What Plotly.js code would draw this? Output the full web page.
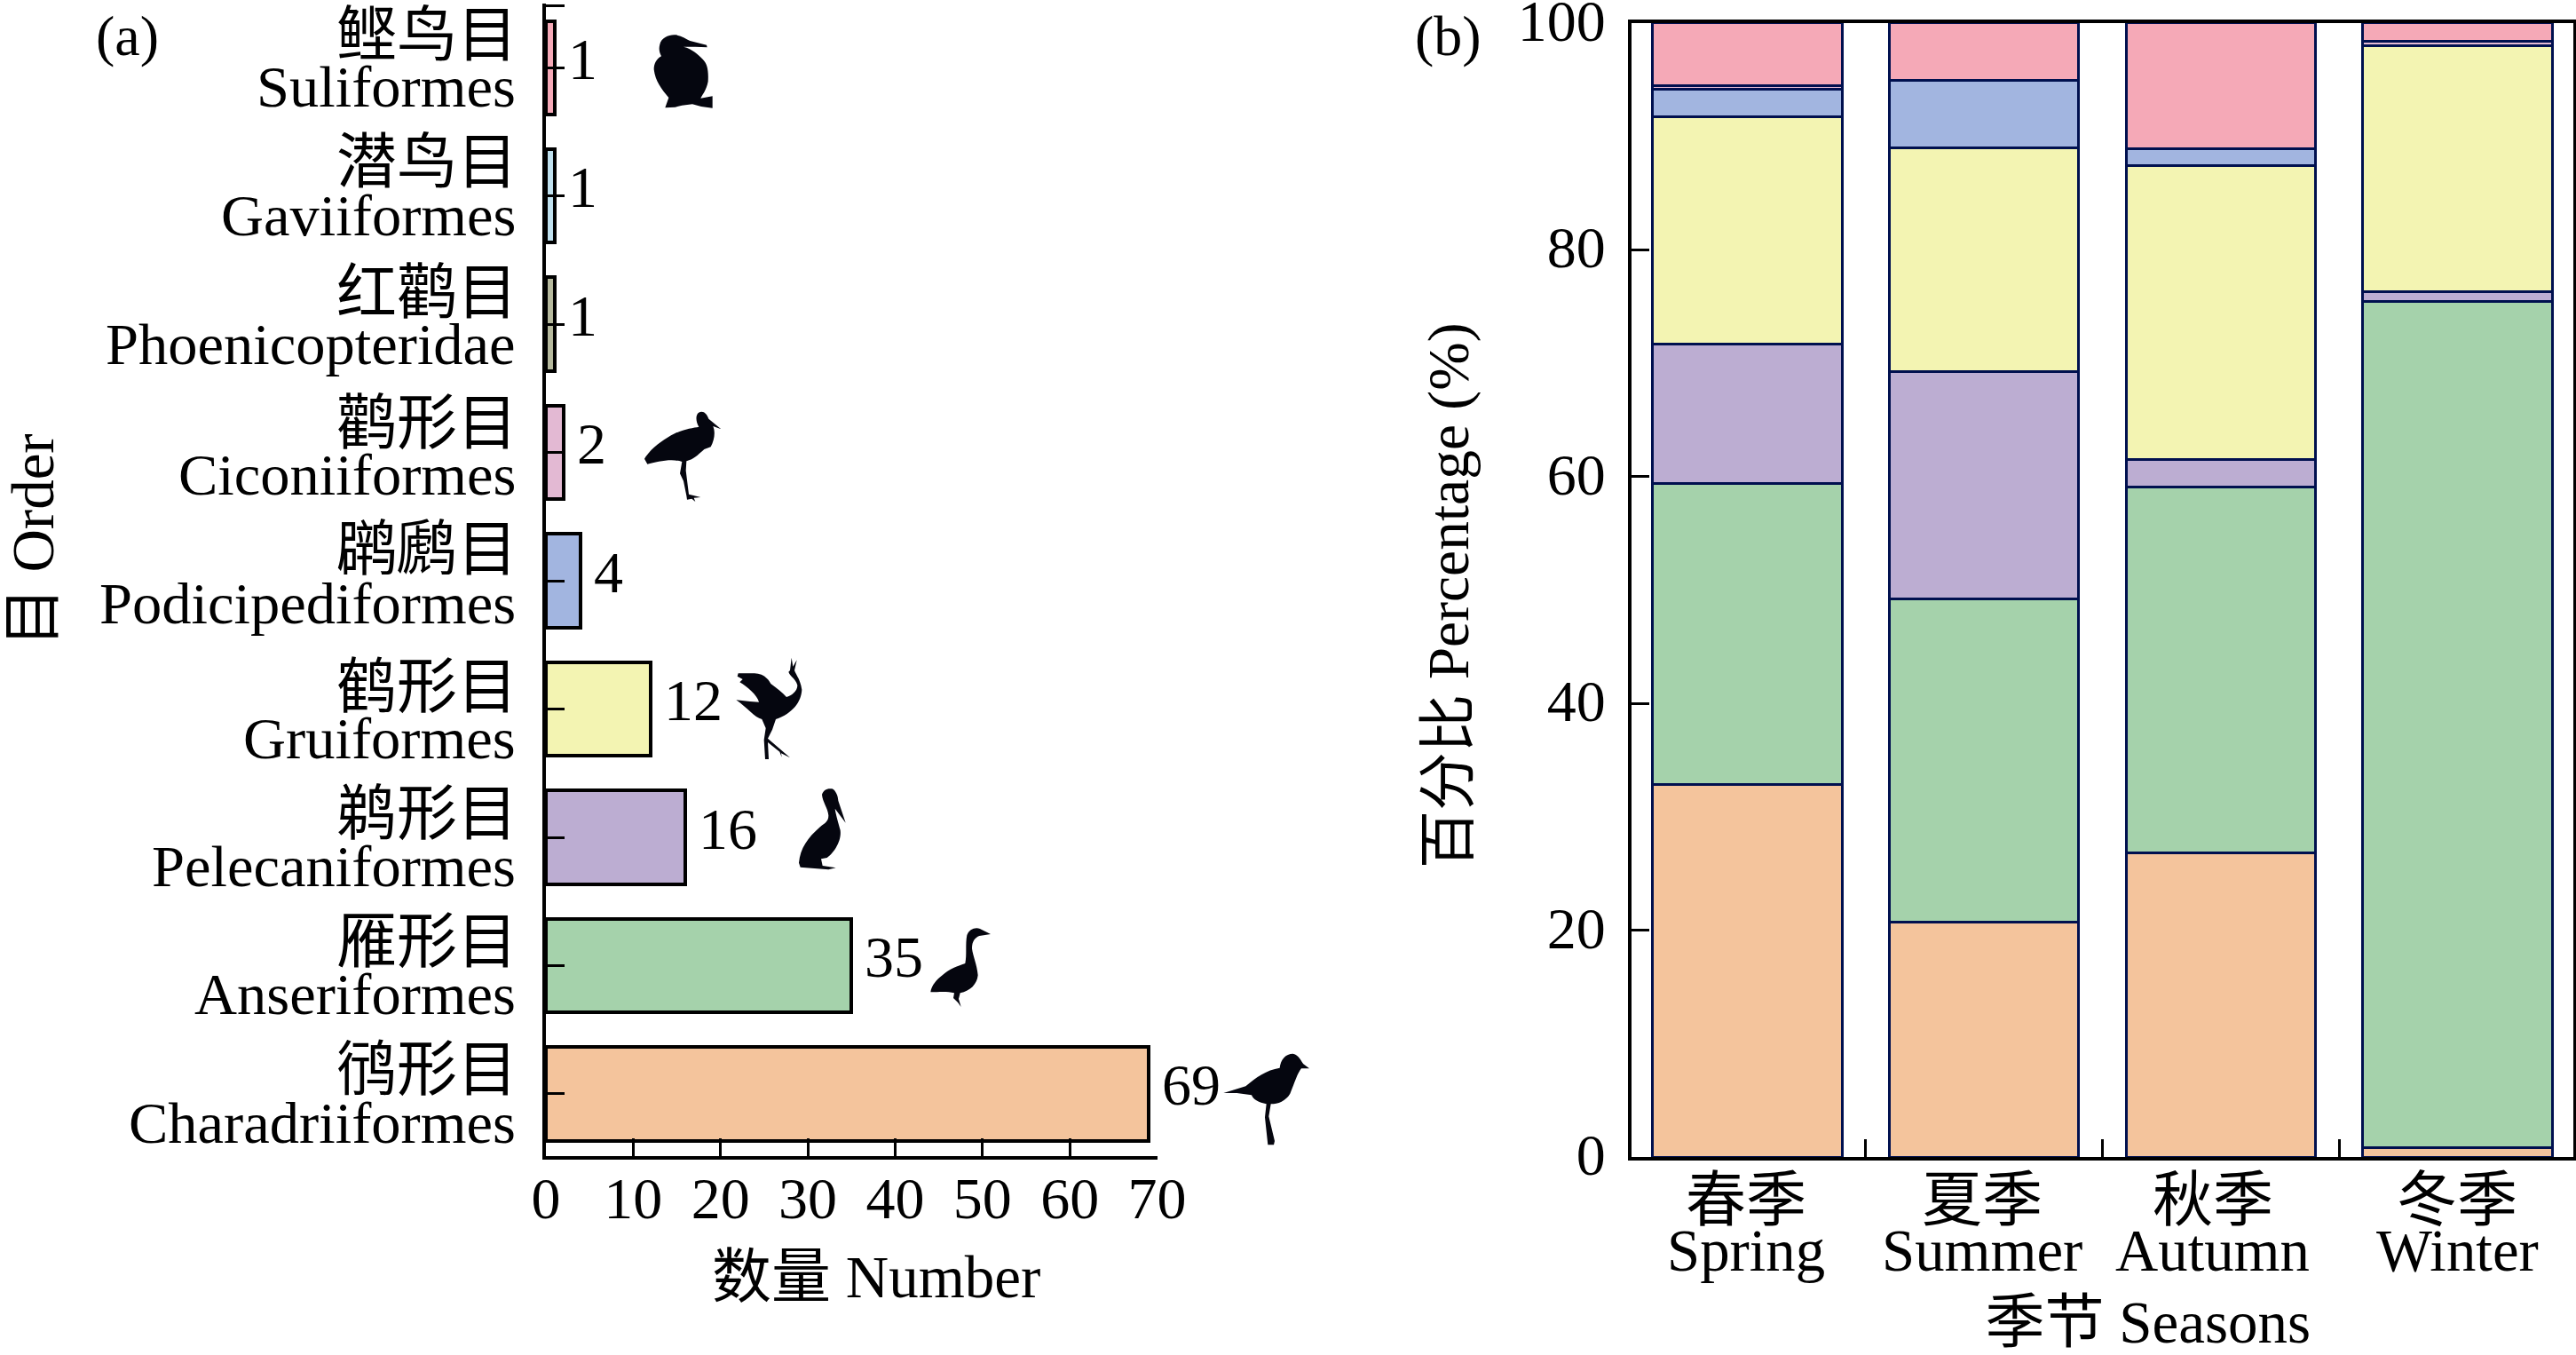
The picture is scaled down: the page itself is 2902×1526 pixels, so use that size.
<!DOCTYPE html>
<html><head><meta charset="utf-8">
<script src="https://cdn.plot.ly/plotly-3.0.1.min.js"></script>
<style>html,body{margin:0;padding:0;background:#fff}</style></head>
<body><div id="chart" style="width:2902px;height:1526px"></div>
<script>
// ---- data (bottom to top) ----
const ordersZh = ['鸻形目','雁形目','鹈形目','鹤形目','䴙䴘目','鹳形目','红鹳目','潜鸟目','鲣鸟目'];
const ordersEn = ['Charadriiformes','Anseriformes','Pelecaniformes','Gruiformes','Podicipediformes','Ciconiiformes','Phoenicopteridae','Gaviiformes','Suliformes'];
const orderCounts = [69,35,16,12,4,2,1,1,1];
const orderColors = ['#F4C49C','#A5D2AB','#BCADD2','#F3F4B2','#A2B5E0','#E3B9D3','#B5B89C','#BFE0EE','#F5A9B7'];

const seasonsZh = ['春季','夏季','秋季','冬季'];
const seasonsEn = ['Spring','Summer','Autumn','Winter'];
const charadriiformes  = [32.8,20.7,26.8,0.8];
const anseriformes     = [26.6,28.5,32.3,74.6];
const pelecaniformes   = [12.3,20.0,2.4,0.9];
const gruiformes       = [20.0,19.8,25.9,21.7];
const podicipediformes = [2.4,5.9,1.5,0];
const ciconiiformes    = [0.35,0,0,0.35];
const suliformes       = [5.55,5.1,11.1,1.65];

const percentTicks = [0,20,40,60,80,100];

// ---- page geometry ----
const W = 2902, H = 1526;
const FONT = '"Liberation Serif","Noto Sans CJK SC",serif';
const FS = 66;
const px = v => v / W, py = v => 1 - v / H;
const navy = '#00104F';

// ---- left panel ----
const yIdx = ordersEn.map((_, i) => i);
const traces = [{
  type: 'bar', orientation: 'h', y: yIdx, x: orderCounts, width: 0.73,
  marker: {color: orderColors, line: {color: '#000', width: 4}},
  xaxis: 'x', yaxis: 'y', hoverinfo: 'x+y', showlegend: false
}];

// ---- right panel ----
const stack = [
  ['Charadriiformes', charadriiformes, orderColors[0]],
  ['Anseriformes', anseriformes, orderColors[1]],
  ['Pelecaniformes', pelecaniformes, orderColors[2]],
  ['Gruiformes', gruiformes, orderColors[3]],
  ['Podicipediformes', podicipediformes, orderColors[4]],
  ['Ciconiiformes', ciconiiformes, orderColors[5]],
  ['Suliformes', suliformes, orderColors[8]]
];
stack.forEach(([name, vals, color]) => traces.push({
  type: 'bar', name, x: seasonsEn, y: vals, width: 0.8,
  marker: {color, line: {color: navy, width: 3}},
  xaxis: 'x2', yaxis: 'y2', showlegend: false
}));

// ---- annotations ----
const annos = [];
const txt = (o, size) => annos.push(Object.assign({showarrow: false, font: {family: FONT, size: size || FS, color: '#000'}, borderpad: 0}, o));

// vertical placement of the two-line order labels (pixels above the category centre)
const zhLabelShift = [27, 26, 26, 25, 35, 33, 35, 38, 36];
const enLabelShift = [-33, -32, -32, -33, -25, -25, -22, -22, -21];
ordersEn.forEach((en, i) => {
  txt({text: ordersZh[i], xref: 'paper', yref: 'y', x: px(584), y: i, xanchor: 'right', yanchor: 'middle', yshift: zhLabelShift[i]}, 68);
  txt({text: en, xref: 'paper', yref: 'y', x: px(582), y: i, xanchor: 'right', yanchor: 'middle', yshift: enLabelShift[i]}, 66.5);
  txt({text: String(orderCounts[i]), xref: 'x', yref: 'y', x: orderCounts[i], y: i, xanchor: 'left', yanchor: 'middle', xshift: 14, yshift: 10});
});
const seasonNudge = [-2, -2, -9, 0];
seasonsEn.forEach((en, i) => {
  txt({text: seasonsZh[i], xref: 'x2', yref: 'paper', x: en, y: py(1352), xanchor: 'center', yanchor: 'middle', xshift: seasonNudge[i]}, 68);
  txt({text: en, xref: 'x2', yref: 'paper', x: en, y: py(1408), xanchor: 'center', yanchor: 'middle', xshift: seasonNudge[i]}, 66.8);
});
txt({text: '(a)', xref: 'paper', yref: 'paper', x: px(143), y: py(40), xanchor: 'center', yanchor: 'middle'}, 64);
txt({text: '(b)', xref: 'paper', yref: 'paper', x: px(1631), y: py(40), xanchor: 'center', yanchor: 'middle'}, 64);

// ---- bird silhouettes: [crop x, crop y, crop size, path in a 3x crop view] ----
const birds = [
 [690,20,400,'M160 90C165 65 195 55 215 58C235 62 250 72 262 78L318 92L320 100L280 98L240 98C270 105 290 125 305 140C320 155 325 175 323 215C318 245 300 265 298 272L322 268L338 265L338 305L300 300L270 292L235 296L212 302L178 304L190 270C165 240 145 215 140 175C140 155 148 140 165 130C158 115 156 105 160 90Z'],
 [690,20,400,'M62 652L75 638C95 615 130 585 170 580C195 580 222 592 240 600C245 590 240 570 238 550C236 525 245 510 262 508C275 510 285 517 298 522L280 528L265 530C262 545 265 560 268 585C270 620 268 650 250 665C225 680 190 682 155 680C135 678 115 665 95 660Z'],
 [690,20,400,'M72 1025C90 1000 120 975 170 968C190 966 215 966 225 970C238 985 250 1000 258 995C268 990 268 975 258 950C248 930 232 915 236 905C242 892 260 888 275 895C285 900 295 908 298 915L292 938L288 925C280 912 265 905 250 908C245 912 250 930 262 950C275 975 278 995 268 1008C255 1018 230 1012 215 1015L170 1025L168 1060L166 1168L160 1168L158 1070L160 1030L145 1025L85 1062L130 1140L120 1165L116 1162L124 1142L78 1070L76 1060L135 1027L90 1030Z'],
 [690,440,300,'M108 230C125 200 170 165 210 145C240 130 275 125 292 122C282 105 280 85 290 75C305 65 318 75 325 95L367 130L340 120C348 140 345 165 332 190L310 198C295 210 280 230 250 238L248 270L258 350L298 360L275 362L280 375L268 365L252 368L250 355L240 305L228 280L235 240C200 228 150 240 118 248Z'],
 [690,440,300,'M168 728C180 705 200 690 210 685C230 650 265 632 295 635C315 640 330 648 336 648C332 620 340 585 365 575C390 572 410 585 420 602L455 622L410 625C395 628 370 630 372 645C385 665 410 670 425 695C430 710 430 720 430 735L175 735Z'],
 [800,730,200,'M95 85L150 85C175 85 195 100 205 120C225 135 245 150 258 165C275 160 295 145 295 125C290 105 270 95 265 80L270 75L275 32L280 62L293 40L285 75C290 90 305 105 310 140C308 180 280 220 222 240L210 275L195 305L270 370L240 355L242 368L235 350L195 318L198 375L186 375L182 310L188 270L175 240C150 235 125 200 88 175L135 180L165 182C160 160 125 130 100 115L110 105L92 95Z'],
 [880,880,100,'M138 45C142 30 155 22 172 25C185 30 192 50 193 65L218 140L182 92C185 115 195 145 200 165C205 200 180 240 155 258L135 262L140 285L185 292L160 298L65 290L60 275C65 225 90 190 130 155C150 140 160 135 160 115C158 90 140 70 138 45Z'],
 [1030,1030,130,'M55 262C58 240 75 220 95 205C115 185 150 172 172 165C178 135 172 100 178 70C185 50 205 42 222 48L258 66L220 72C205 78 195 90 195 115C198 140 212 170 215 205C212 235 190 258 155 265L150 285L158 312L148 298L132 282L135 265C110 258 80 262 55 262Z'],
 [1360,1170,140,'M55 183L130 160C165 130 200 105 245 98C248 70 265 50 290 50C310 55 318 75 325 85L345 100L318 100C305 115 295 150 280 185C265 210 240 220 215 220L208 262L228 345L225 358L205 358L195 265L200 220C175 215 155 205 150 190L100 183Z']
];
const images = birds.map(([x, y, s, d]) => ({
  source: 'data:image/svg+xml;utf8,' + encodeURIComponent(
    `<svg xmlns="http://www.w3.org/2000/svg" width="${s*3}" height="${s*3}" viewBox="0 0 ${s*3} ${s*3}"><path d="${d}" fill="#05060F"/></svg>`),
  xref: 'paper', yref: 'paper', x: px(x), y: py(y), sizex: s / W, sizey: s / H,
  xanchor: 'left', yanchor: 'top', sizing: 'stretch', layer: 'above'
}));

const tickFont = {family: FONT, size: FS, color: '#000'};
const titleFont = {family: FONT, size: 67, color: '#000'};

const layout = {
  width: W, height: H, autosize: false,
  margin: {l: 0, r: 0, t: 0, b: 0, pad: 0},
  paper_bgcolor: '#fff', plot_bgcolor: '#fff',
  showlegend: false, barmode: 'stack', hovermode: 'closest',
  font: {family: FONT, size: FS, color: '#000'},
  xaxis: {
    domain: [px(615), px(1303.5)], range: [0, 70], anchor: 'y',
    tickmode: 'linear', tick0: 0, dtick: 10, ticks: 'inside', ticklen: 20, tickwidth: 3, tickcolor: '#000',
    showline: true, linecolor: '#000', linewidth: 4, showgrid: false, zeroline: false,
    tickfont: tickFont, ticklabelstandoff: -13, ticklabeloverflow: 'allow',
    title: {text: '\u200B\u2004\u2002数量 Number', font: titleFont, standoff: 30}
  },
  yaxis: {
    domain: [py(1302), py(4)], range: [-0.485, 8.5], anchor: 'x',
    tickmode: 'array', tickvals: yIdx.concat([8.485]), ticktext: ordersEn.map(() => '').concat(['']),
    ticks: 'inside', ticklen: 21, tickwidth: 3, tickcolor: '#000',
    showline: true, linecolor: '#000', linewidth: 4, showgrid: false, zeroline: false,
    title: {text: '\u200B\u2003\u2004目 Order', font: titleFont, standoff: 554}
  },
  xaxis2: {
    domain: [px(1838), px(2899)], range: [-0.49, 3.49], anchor: 'y2', type: 'category',
    categoryorder: 'array', categoryarray: seasonsEn,
    tickson: 'boundaries', ticks: 'inside', ticklen: 20, tickwidth: 3, tickcolor: '#000',
    showticklabels: false,
    showline: true, mirror: true, linecolor: '#000', linewidth: 4, showgrid: false, zeroline: false,
    title: {text: '\u200B\u2003\u2004\u2009季节 Seasons', font: titleFont, standoff: 173}
  },
  yaxis2: {
    domain: [py(1303), py(25.5)], range: [0, 100], anchor: 'x2',
    tickmode: 'array', tickvals: percentTicks,
    ticks: 'inside', ticklen: 20, tickwidth: 3, tickcolor: '#000',
    showline: true, mirror: true, linecolor: '#000', linewidth: 4, showgrid: false, zeroline: false,
    tickfont: tickFont, ticklabelstandoff: 12, ticklabelshift: -3, ticklabeloverflow: 'allow',
    title: {text: '百分比 Percentage (%)\u2009\u200B', font: {family: FONT, size: 65.5, color: '#000'}, standoff: 35}
  },
  annotations: annos,
  images: images
};
Plotly.newPlot('chart', traces, layout, {staticPlot: true, displayModeBar: false, responsive: false});
</script></body></html>
